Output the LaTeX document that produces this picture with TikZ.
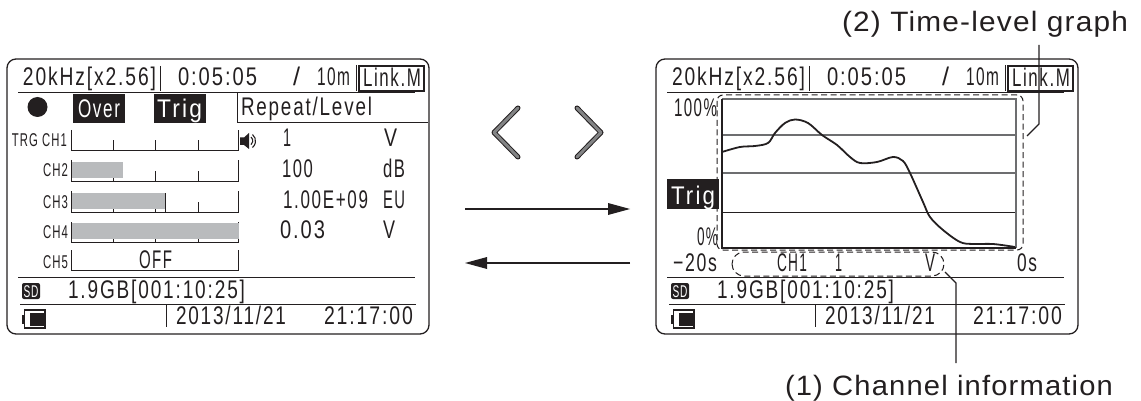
\documentclass[tikz,border=0pt]{standalone}
\usepackage{fontspec}
\usepackage{graphicx}
\setmainfont{Liberation Sans}
\newfontfamily\lcdfont[FakeStretch=0.72,LetterSpace=7]{Liberation Sans}
\newfontfamily\capfont[LetterSpace=4]{Liberation Sans}
\definecolor{ink}{HTML}{231F20}
\definecolor{barg}{HTML}{B9BBBD}
\definecolor{gridg}{HTML}{6D6E70}
\newcommand{\fitw}[2]{\resizebox{#1pt}{\height}{#2}}
\newcommand{\lcdbig}[5]{\node[lcd] (#1) at (#2,#3) {\fitw{#4}{#5}};}
\newcommand{\lcdsm}[5]{\node[lcdsmall] (#1) at (#2,#3) {\fitw{#4}{#5}};}
\newcommand{\lcdinv}[5]{\node[lcd,text=white] (#1) at (#2,#3) {\fitw{#4}{#5}};}
\newcommand{\panel}[1]{%
  \draw[panelline,rounded corners=9pt] (7,59) rectangle (429,334);
  \lcdbig{#1freq}{23}{86}{133}{20kHz[x2.56]}
  \lcdbig{#1time}{178}{86}{79}{0:05:05}
  \lcdbig{#1slash}{293}{86}{7}{/}
  \lcdbig{#1rec}{317}{86}{33}{10m}
  \draw[thin1] (160,66) -- (160,91);
  \draw[thin1] (356,65) -- (356,91);
  \draw[thin1,line width=1.4pt] (359,66) rectangle (424,91);
  \lcdbig{#1link}{363}{87}{58}{Link.M}
  \draw[thin1] (18,93) -- (415,93);
  \draw[thin1] (18,277) -- (415,277);
  \draw[thin1] (20,304) -- (416,304);
  \draw[thin1] (166,305) -- (166,327);
  \fill[ink,rounded corners=2pt] (22,283) rectangle (40,299);
  \node[lcdsmall,text=white,font=\lcdfont\fontsize{17}{17}\selectfont] (#1sd) at (23.5,297) {\fitw{15}{SD}};
  \lcdbig{#1free}{68}{298}{177}{1.9GB[001:10:25]}
  \draw[ink,line width=1.2pt] (24.5,310) rectangle (45,328);
  \fill[ink] (30,313) rectangle (43.5,326);
  \fill[ink] (21.5,314.5) rectangle (24,324);
  \lcdbig{#1date}{176}{324}{110}{2013/11/21}
  \lcdbig{#1clock}{324}{324}{89}{21:17:00}
}
\newcommand{\chevron}[2]{%
  \draw[chev,ink,line width=5pt] (#1,108) -- (#2,132.5) -- (#1,157);
  \draw[chev,gridg!85,line width=3pt] (#1,108) -- (#2,132.5) -- (#1,157);
}
\tikzset{
  lcd/.style={anchor=base west,inner sep=0pt,outer sep=0pt,text=ink,font=\lcdfont\fontsize{25.5}{25.5}\selectfont},
  lcdsmall/.style={anchor=base west,inner sep=0pt,outer sep=0pt,text=ink,font=\lcdfont\fontsize{18.5}{18.5}\selectfont},
  callout/.style={anchor=base west,inner sep=0pt,outer sep=0pt,text=ink,font=\capfont\fontsize{28}{28}\selectfont},
  panelline/.style={draw=ink,line width=1.3pt},
  thin1/.style={draw=ink,line width=1pt},
  barline/.style={draw=ink,line width=0.9pt},
  gridline/.style={draw=gridg,line width=1.2pt},
  dashbox/.style={draw=ink,line width=1pt,dash pattern=on 6pt off 3.5pt},
  leader/.style={draw=ink,line width=1.3pt},
  chev/.style={line cap=round,line join=round},
  flow/.style={draw=ink,line width=1.3pt},
  head/.style={fill=ink},
}
\begin{document}
\begin{tikzpicture}[x=1pt,y=-1pt]
\useasboundingbox (0,0) rectangle (1141,401);
% ---------- left screen
\panel{l}
\fill[ink] (37.5,107) circle (10);
\fill[ink] (73,94) rectangle (125,123);
\lcdinv{over}{78}{118}{42}{Over}
\fill[ink] (154,94) rectangle (206,123);
\lcdinv{trigl}{157}{118}{45}{Trig}
\draw[thin1] (237,93) -- (237,123) -- (428,123);
\lcdbig{repeat}{241}{116}{131}{Repeat/Level}
% bars
\foreach \yb/\yt in {150/130,181/160,212/191,242/222}{
  \draw[barline] (71,\yt) -- (71,\yb) -- (238,\yb) -- (238,\yt);
  \foreach \xt in {113,155,198}{\draw[barline] (\xt,\yb) -- (\xt,\yb-10);}
}
\fill[barg] (72,162) rectangle (123,178);
\fill[barg] (72,193) rectangle (165,209);
\fill[barg] (72,223) rectangle (239,239);
\draw[barline] (165,193) -- (165,212);
\draw[barline] (71,250) -- (71,270) -- (238,270) -- (238,250);
\node[lcd] (off) at (139,268) {\fitw{33}{OFF}};
\lcdsm{trgch}{12}{147}{55}{TRG CH1}
\lcdsm{chtwo}{43}{177}{25}{CH2}
\lcdsm{chthree}{43}{208}{25}{CH3}
\lcdsm{chfour}{43}{238}{25}{CH4}
\lcdsm{chfive}{43}{268}{25}{CH5}
% speaker
\fill[ink] (240,137.5) -- (244,137.5) -- (249,133) -- (249,149) -- (244,145) -- (240,145) -- cycle;
\draw[ink,line width=1.1pt] (251,137) arc (-50:50:5);
\draw[ink,line width=1.1pt] (252.5,134.5) arc (-50:50:8.5);
\lcdbig{vone}{283}{147}{8}{1}
\lcdbig{uone}{384}{147}{13}{V}
\lcdbig{vtwo}{282}{178}{31}{100}
\lcdbig{utwo}{383}{178}{22}{dB}
\lcdbig{vthree}{283}{208}{85}{1.00E+09}
\lcdbig{uthree}{383}{208}{22}{EU}
\lcdbig{vfour}{280}{238}{45}{0.03}
\lcdbig{ufour}{383}{238}{12}{V}
% ---------- right screen
\begin{scope}[xshift=649pt]
\panel{r}
\end{scope}
\draw[gridline] (722,135) -- (1016,135);
\draw[gridline] (722,173) -- (1016,173);
\draw[barline] (722,212) -- (1016,212);
\draw[draw=gridg,line width=1.4pt] (722,99) -- (1016,99) -- (1016,248);
\draw[draw=ink,line width=1.4pt] (722,99) -- (722,248) -- (1016,248);
\draw[ink,line width=1.8pt,line join=round] plot[smooth,tension=0.55] coordinates {
 (722,152) (740,147) (755,146) (768,143) (775,133) (785,123) (795,119.5) (808,123) (822,135)
 (837,145) (850,157) (860,163) (877,162) (893,157) (903,161) (910,173) (923,202) (930,217)
 (943,230) (960,242) (973,244) (993,244) (1015,247)};
\draw[dashbox,rounded corners=6pt] (717,95) rectangle (1023,250);
\draw[dashbox,rounded corners=12pt] (732,252) rectangle (944,276);
\lcdbig{hundred}{674}{117}{43}{100\%}
\fill[ink] (667,179) rectangle (719,209);
\lcdinv{trigr}{671}{204}{44}{Trig}
\lcdbig{zero}{697}{245}{21}{0\%}
\lcdbig{minus}{673}{271}{44}{−20s}
\lcdbig{zeros}{1017}{271}{20}{0s}
\lcdbig{chinfo}{777}{271}{30}{CH1}
\lcdbig{oneinfo}{835}{271}{7}{1}
\lcdbig{vinfo}{925}{271}{10}{V}
% ---------- mode switch keys and flow arrows
\chevron{518}{494}
\chevron{577}{601}
\coordinate (fa) at (465,209);
\coordinate (fb) at (630,209);
\coordinate (ga) at (630,263);
\coordinate (gb) at (465,263);
\draw[flow] (fa) -- (610,209);
\fill[head] (fb) -- (608,203) -- (608,215) -- cycle;
\draw[flow] (ga) -- (485,263);
\fill[head] (gb) -- (487,257) -- (487,269) -- cycle;
% ---------- callouts
\node[callout] (capone) at (785,395) {\fitw{328}{(1) Channel information}};
\node[callout] (captwo) at (842,32) {\fitw{286}{(2) Time-level graph}};
\coordinate (la) at (945,272);
\coordinate (ma) at (1027,136);
\draw[leader] (la) -- (956,283) -- (956,363);
\draw[leader] (ma) -- (1039,124) -- (1039,45);
\end{tikzpicture}
\end{document}
